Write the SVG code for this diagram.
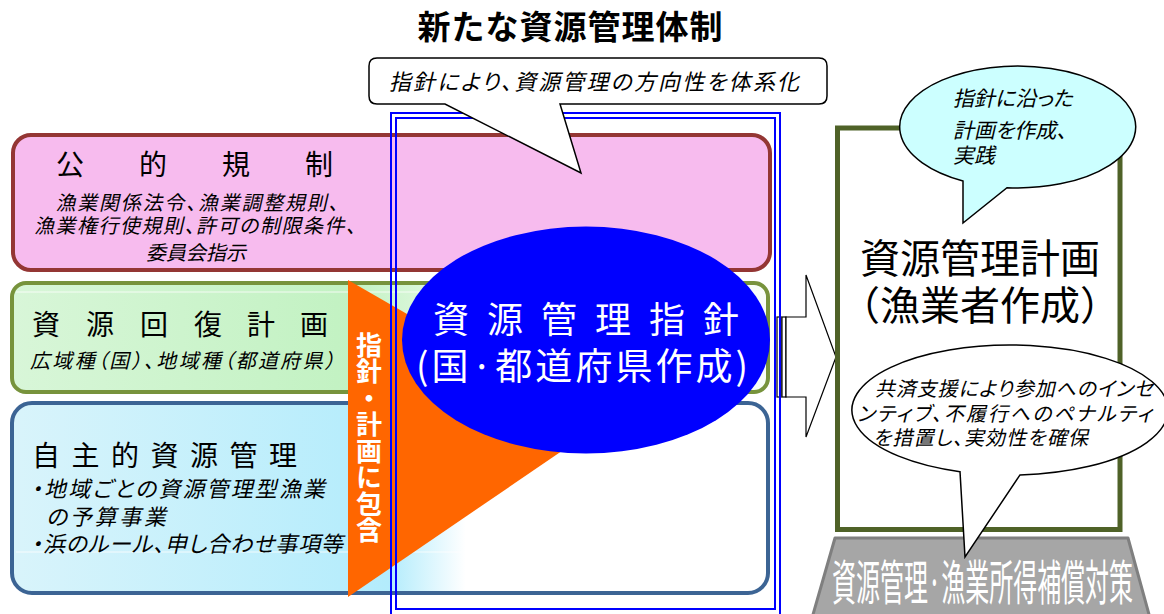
<svg xmlns="http://www.w3.org/2000/svg" width="1164" height="614" viewBox="0 0 1164 614">
  <defs>
    <style>
      text { font-family: "Noto Sans CJK JP", "Noto Sans", sans-serif; }
      .it { fill: #000; font-feature-settings: "palt"; }
      .blk { fill: #000; }
      .wht { fill: #fff; }
      .callout { stroke: #000; stroke-width: 1.5; }
      .blueline { fill: none; stroke: #0000ff; stroke-width: 2; }
      .gloss { stroke: #ffffff; stroke-width: 1; opacity: 0.8; }
    </style>
    <linearGradient id="gGreen" gradientUnits="userSpaceOnUse" x1="12" y1="0" x2="768" y2="0">
      <stop offset="0" stop-color="#d8f6d8"/>
      <stop offset="0.45" stop-color="#c2f2c2"/>
      <stop offset="0.62" stop-color="#eefbee"/>
      <stop offset="1" stop-color="#f8fdf8"/>
    </linearGradient>
    <linearGradient id="gBlue" gradientUnits="userSpaceOnUse" x1="12" y1="0" x2="768" y2="0">
      <stop offset="0" stop-color="#d9f4fb"/>
      <stop offset="0.5" stop-color="#b3ecfc"/>
      <stop offset="0.6" stop-color="#ffffff"/>
      <stop offset="1" stop-color="#ffffff"/>
    </linearGradient>
  </defs>

  <rect width="1164" height="614" fill="#ffffff"/>

  <g id="title">
    <text x="570" y="39" font-size="33" font-weight="bold" text-anchor="middle" class="blk" textLength="305">新たな資源管理体制</text>
  </g>

  <g id="public-regulation">
    <rect x="13" y="135" width="757" height="135" rx="18" fill="#f7bbee" stroke="#943634" stroke-width="4"/>
    <text y="175" font-size="28" class="blk"><tspan x="56">公</tspan><tspan x="139">的</tspan><tspan x="222">規</tspan><tspan x="305">制</tspan></text>
    <text x="197" y="210" font-size="20" class="it" text-anchor="middle" textLength="283" transform="translate(48.49,0) skewX(-13)">漁業関係法令、漁業調整規則、</text>
    <text x="195" y="233" font-size="20" class="it" text-anchor="middle" textLength="322" transform="translate(53.80,0) skewX(-13)">漁業権行使規則、許可の制限条件、</text>
    <text x="196" y="260" font-size="20" class="it" text-anchor="middle" transform="translate(60.03,0) skewX(-13)">委員会指示</text>
  </g>

  <g id="recovery-plan">
    <rect x="12" y="283" width="756" height="109" rx="14" fill="url(#gGreen)" stroke="#77933c" stroke-width="4"/>
    <line x1="16" y1="292" x2="764" y2="292" class="gloss"/>
    <text y="335" font-size="28" class="blk"><tspan x="32">資</tspan><tspan x="86">源</tspan><tspan x="140">回</tspan><tspan x="194">復</tspan><tspan x="247">計</tspan><tspan x="300">画</tspan></text>
    <text x="30" y="368" font-size="20" class="it" textLength="305" transform="translate(84.97,0) skewX(-13)">広域種（国）、地域種（都道府県）</text>
  </g>

  <g id="voluntary-management">
    <rect x="12" y="403" width="756" height="190" rx="20" fill="url(#gBlue)" stroke="#3c6494" stroke-width="4"/>
    <line x1="16" y1="552" x2="480" y2="552" class="gloss"/>
    <text y="466" font-size="28" class="blk"><tspan x="32">自</tspan><tspan x="71.5">主</tspan><tspan x="111">的</tspan><tspan x="150.5">資</tspan><tspan x="190">源</tspan><tspan x="229.5">管</tspan><tspan x="269">理</tspan></text>
    <text x="31" y="497" font-size="22" class="it" textLength="294" transform="translate(114.76,0) skewX(-13)">・地域ごとの資源管理型漁業</text>
    <text x="46" y="525" font-size="22" class="it" textLength="120" transform="translate(121.22,0) skewX(-13)">の予算事業</text>
    <text x="31" y="552" font-size="22" class="it" textLength="312" transform="translate(127.46,0) skewX(-13)">・浜のルール、申し合わせ事項等</text>
  </g>

  <g id="include-triangle">
    <polygon points="348,280 600,425 348,597" fill="#ff6600"/>
    <text x="369" y="332" font-size="26" font-weight="bold" class="wht" writing-mode="vertical-rl" letter-spacing="0.5">指針・計画に包含</text>
  </g>

  <g id="connectors">
    <rect x="777" y="317" width="4" height="80" fill="#ffffff" stroke="#000" stroke-width="1.2"/>
    <rect x="782" y="317" width="4" height="80" fill="#ffffff" stroke="#000" stroke-width="1.2"/>
    <path d="M786,317 H806 V275 L836,357 L806,437 V397 H786 Z" fill="#ffffff" stroke="#000" stroke-width="1.2"/>
  </g>

  <g id="system-frame">
    <rect x="391" y="113" width="389" height="510" class="blueline"/>
    <rect x="396" y="118" width="379" height="491" class="blueline"/>
  </g>

  <g id="guideline">
    <ellipse cx="586" cy="340" rx="184" ry="113.5" fill="#0000ff"/>
    <text y="333" font-size="36" class="wht"><tspan x="433">資</tspan><tspan x="487">源</tspan><tspan x="541">管</tspan><tspan x="595">理</tspan><tspan x="649">指</tspan><tspan x="703">針</tspan></text>
    <text x="416" y="380" font-size="37" class="wht" textLength="332">(国·都道府県作成)</text>
  </g>

  <g id="callout-top">
    <path d="M377,58 H819 Q827,58 827,66 V96 Q827,104 819,104 H560 L581,173 L445,104 H377 Q369,104 369,96 V66 Q369,58 377,58 Z" fill="#ffffff" class="callout"/>
    <text x="389" y="90" font-size="22" class="it" textLength="410" transform="translate(20.78,0) skewX(-13)">指針により、資源管理の方向性を体系化</text>
  </g>

  <g id="resource-plan">
    <rect x="837.5" y="128" width="282.5" height="401.5" fill="#ffffff" stroke="#4f6228" stroke-width="5"/>
    <text x="980" y="273" font-size="40" class="blk" text-anchor="middle">資源管理計画</text>
    <text x="980" y="320" font-size="40" class="blk" text-anchor="middle">（漁業者作成）</text>
  </g>

  <g id="compensation">
    <polygon points="835,538 1128,538 1150,618 812,618" fill="#a6a6a6" stroke="#7f7f7f" stroke-width="3" stroke-linejoin="round"/>
    <text x="0" y="0" font-size="48" class="wht" textLength="602" lengthAdjust="spacingAndGlyphs" transform="translate(832,600) scale(0.5,1)">資源管理·漁業所得補償対策</text>
  </g>

  <g id="callout-practice">
    <path d="M963,181 A118,61 0 1 1 1007,187.7 L963,223 Z" fill="#ccffff" class="callout"/>
    <text x="953" y="106" font-size="21" class="it" transform="translate(24.48,0) skewX(-13)">指針に沿った</text>
    <text x="953" y="138" font-size="21" class="it" transform="translate(31.86,0) skewX(-13)">計画を作成、</text>
    <text x="953" y="163" font-size="21" class="it" transform="translate(37.64,0) skewX(-13)">実践</text>
  </g>

  <g id="callout-incentive">
    <path d="M960,471.7 A158,65 0 1 1 1020,474.9 L965,557 Z" fill="#ffffff" class="callout"/>
    <text x="875" y="396" font-size="20" class="it" textLength="278" transform="translate(91.44,0) skewX(-13)">共済支援により参加へのインセ</text>
    <text x="857" y="421" font-size="20" class="it" textLength="295" transform="translate(97.21,0) skewX(-13)">ンティブ、不履行へのペナルティ</text>
    <text x="873" y="445" font-size="20" class="it" textLength="215" transform="translate(102.75,0) skewX(-13)">を措置し、実効性を確保</text>
  </g>
</svg>
